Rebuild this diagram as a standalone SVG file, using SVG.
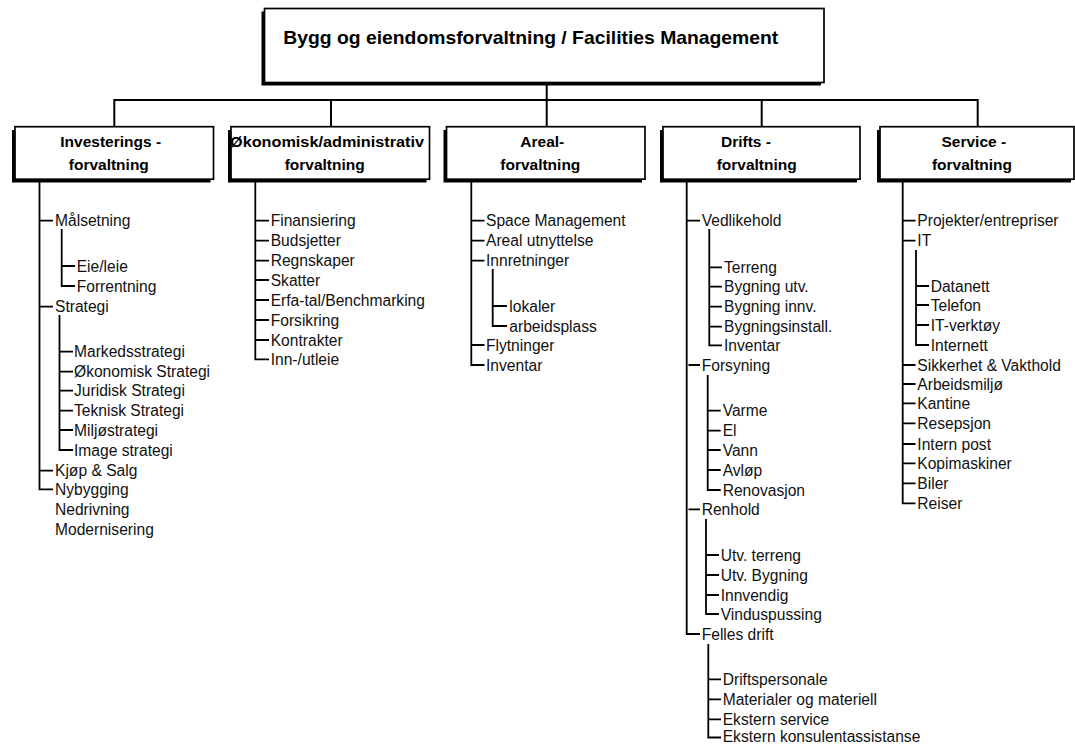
<svg xmlns="http://www.w3.org/2000/svg" width="1075" height="744" viewBox="0 0 1075 744">
<style>
.bg{fill:#fff}
.box{fill:#fff;stroke:#000;stroke-width:1.7}
.sh{fill:#000}
.ln{stroke:#000;stroke-width:2;fill:none}
.tl{stroke:#000;stroke-width:1.8;fill:none}
.t{font-family:"Liberation Sans",Arial,sans-serif;font-size:15.6px;fill:#111}
.h{font-family:"Liberation Sans",Arial,sans-serif;font-size:15.5px;font-weight:bold;fill:#000;text-anchor:middle}
.title{font-family:"Liberation Sans",Arial,sans-serif;font-size:18.5px;font-weight:bold;fill:#000}
</style>
<rect class="bg" x="0" y="0" width="1075" height="744"/>

<g id="connectors">
  <path class="ln" d="M546.7 84V126.7M114.3 126.7V100H977.7V126.7M331 100V126.7M761.7 100V126.7"/>
  <!-- column 1 -->
  <path class="tl" d="M39.5 182V489.3H53M39.5 220.7H53M39.5 306.7H53M39.5 470.7H53"/>
  <path class="tl" d="M61.7 229V286H75M61.7 266H75"/>
  <path class="tl" d="M59.5 315V450H73M59.5 351.7H73M59.5 371.7H73M59.5 390.7H73M59.5 410.7H73M59.5 430H73"/>
  <!-- column 2 -->
  <path class="tl" d="M255.3 182V359.3H269M255.3 220.7H269M255.3 240.7H269M255.3 260.7H269M255.3 280H269M255.3 300H269M255.3 320H269M255.3 340H269"/>
  <!-- column 3 -->
  <path class="tl" d="M471.3 182V365H484.5M471.3 220.7H484.5M471.3 240.7H484.5M471.3 260.7H484.5M471.3 345H484.5"/>
  <path class="tl" d="M492.7 269V326H507M492.7 306H507"/>
  <!-- column 4 -->
  <path class="tl" d="M686.7 182V634H700M686.7 220.7H700M688.5 365H700M688.5 509.3H700"/>
  <path class="tl" d="M709.3 229V345.3H722M709.3 267.3H722M709.3 286.7H722M709.3 306.7H722M709.3 326.7H722"/>
  <path class="tl" d="M707.7 375V490H720.7M707.7 410.7H720.7M707.7 430.7H720.7M707.7 450H720.7M707.7 470H720.7"/>
  <path class="tl" d="M706 519V614H719M706 555H719M706 575H719M706 595H719"/>
  <path class="tl" d="M708.3 644V737.5H721M708.3 679.3H721M708.3 699.3H721M708.3 719.3H721"/>
  <!-- column 5 -->
  <path class="tl" d="M902.7 182V503.3H915.5M902.7 220.7H915.5M902.7 240.7H915.5M902.7 365H915.5M902.7 384H915.5M902.7 403.3H915.5M902.7 423.3H915.5M902.7 444H915.5M902.7 463.3H915.5M902.7 483.3H915.5"/>
  <path class="tl" d="M916 250V345H929M916 286H929M916 305H929M916 325H929"/>
</g>

<g id="root">
  <rect class="sh" x="261.5" y="11.5" width="559.5" height="74"/>
  <rect class="box" x="264.5" y="8.5" width="559.5" height="74"/>
  <text class="title" x="283.3" y="43.5" textLength="495" lengthAdjust="spacingAndGlyphs">Bygg og eiendomsforvaltning / Facilities Management</text>
</g>

<g id="investering">
  <rect class="sh" x="12" y="130" width="198.5" height="52.5"/>
  <rect class="box" x="15" y="126.7" width="198.5" height="52.5"/>
  <text class="h" x="110.7" y="146.7">Investerings -</text>
  <text class="h" x="108.8" y="170">forvaltning</text>
</g>
<g id="okonomisk">
  <rect class="sh" x="228" y="130" width="198.5" height="52.5"/>
  <rect class="box" x="231" y="126.7" width="198.5" height="52.5"/>
  <text class="h" x="230" y="146.7" style="text-anchor:start" textLength="194" lengthAdjust="spacingAndGlyphs">Økonomisk/administrativ</text>
  <text class="h" x="324.7" y="170">forvaltning</text>
</g>
<g id="areal">
  <rect class="sh" x="443.5" y="130" width="198.5" height="52.5"/>
  <rect class="box" x="446.5" y="126.7" width="198.5" height="52.5"/>
  <text class="h" x="542.3" y="146.7">Areal-</text>
  <text class="h" x="540.3" y="170">forvaltning</text>
</g>
<g id="drift">
  <rect class="sh" x="660" y="130" width="197" height="52.5"/>
  <rect class="box" x="663" y="126.7" width="197" height="52.5"/>
  <text class="h" x="746" y="146.7">Drifts -</text>
  <text class="h" x="756.7" y="170">forvaltning</text>
</g>
<g id="service">
  <rect class="sh" x="877" y="130" width="194" height="52.5"/>
  <rect class="box" x="880" y="126.7" width="194" height="52.5"/>
  <text class="h" x="973.8" y="146.7">Service -</text>
  <text class="h" x="972" y="170">forvaltning</text>
</g>

<g id="items-investering" class="t">
  <text id="i-malsetning" x="55" y="226.2">Målsetning</text>
  <text id="i-eieleie" x="76.7" y="271.5">Eie/leie</text>
  <text id="i-forrentning" x="76.7" y="291.5">Forrentning</text>
  <text id="i-strategi" x="55" y="312.2">Strategi</text>
  <text id="i-markeds" x="74" y="357.2">Markedsstrategi</text>
  <text id="i-okstrat" x="74" y="377.2">Økonomisk Strategi</text>
  <text id="i-jurid" x="74" y="396.2">Juridisk Strategi</text>
  <text id="i-teknisk" x="74" y="416.2">Teknisk Strategi</text>
  <text id="i-miljo" x="74" y="435.5">Miljøstrategi</text>
  <text id="i-image" x="74" y="455.5">Image strategi</text>
  <text id="i-kjop" x="55" y="476.2">Kjøp &amp; Salg</text>
  <text id="i-nybygging" x="55" y="494.8">Nybygging</text>
  <text id="i-nedrivning" x="55" y="514.8">Nedrivning</text>
  <text id="i-modernisering" x="55" y="534.8">Modernisering</text>
</g>

<g id="items-okonomisk" class="t">
  <text id="o-finans" x="270.7" y="226.2">Finansiering</text>
  <text id="o-budsj" x="270.7" y="246.2">Budsjetter</text>
  <text id="o-regnsk" x="270.7" y="266.2">Regnskaper</text>
  <text id="o-skatter" x="270.7" y="285.5">Skatter</text>
  <text id="o-erfa" x="270.7" y="305.5">Erfa-tal/Benchmarking</text>
  <text id="o-forsikring" x="270.7" y="325.5">Forsikring</text>
  <text id="o-kontrakter" x="270.7" y="345.5">Kontrakter</text>
  <text id="o-innut" x="270.7" y="364.8">Inn-/utleie</text>
</g>

<g id="items-areal" class="t">
  <text id="a-space" x="486" y="226.2">Space Management</text>
  <text id="a-utnytt" x="486" y="246.2">Areal utnyttelse</text>
  <text id="a-innretn" x="486" y="266.2">Innretninger</text>
  <text id="a-lokaler" x="509.3" y="311.5">lokaler</text>
  <text id="a-arbeid" x="509.3" y="331.5">arbeidsplass</text>
  <text id="a-flytn" x="486" y="350.5">Flytninger</text>
  <text id="a-inventar" x="486" y="370.5">Inventar</text>
</g>

<g id="items-drift" class="t">
  <text id="d-vedlikehold" x="701.7" y="226.2">Vedlikehold</text>
  <text id="d-terreng" x="724" y="272.8">Terreng</text>
  <text id="d-bygutv" x="724" y="292.2">Bygning utv.</text>
  <text id="d-byginnv" x="724" y="312.2">Bygning innv.</text>
  <text id="d-byginst" x="724" y="332.2">Bygningsinstall.</text>
  <text id="d-inventar" x="724" y="350.8">Inventar</text>
  <text id="d-forsyning" x="701.7" y="370.5">Forsyning</text>
  <text id="d-varme" x="722.7" y="416.2">Varme</text>
  <text id="d-el" x="722.7" y="436.2">El</text>
  <text id="d-vann" x="722.7" y="455.5">Vann</text>
  <text id="d-avlop" x="722.7" y="475.5">Avløp</text>
  <text id="d-renov" x="722.7" y="495.5">Renovasjon</text>
  <text id="d-renhold" x="701.7" y="514.8">Renhold</text>
  <text id="d-utvterr" x="720.7" y="560.5">Utv. terreng</text>
  <text id="d-utvbyg" x="720.7" y="580.5">Utv. Bygning</text>
  <text id="d-innv" x="720.7" y="600.5">Innvendig</text>
  <text id="d-vindus" x="720.7" y="619.5">Vinduspussing</text>
  <text id="d-felles" x="701.7" y="639.5">Felles drift</text>
  <text id="d-driftsp" x="722.7" y="684.8">Driftspersonale</text>
  <text id="d-mater" x="722.7" y="704.8">Materialer og materiell</text>
  <text id="d-ekstserv" x="722.7" y="724.8">Ekstern service</text>
  <text id="d-ekstkons" x="722.7" y="741.5">Ekstern konsulentassistanse</text>
</g>

<g id="items-service" class="t">
  <text id="s-prosj" x="917.3" y="226.2">Projekter/entrepriser</text>
  <text id="s-it" x="917.3" y="246.2">IT</text>
  <text id="s-datanett" x="930.7" y="291.5">Datanett</text>
  <text id="s-telefon" x="930.7" y="310.5">Telefon</text>
  <text id="s-itverk" x="930.7" y="330.5">IT-verktøy</text>
  <text id="s-internett" x="930.7" y="350.5">Internett</text>
  <text id="s-sikk" x="917.3" y="370.5">Sikkerhet &amp; Vakthold</text>
  <text id="s-arbm" x="917.3" y="389.5">Arbeidsmiljø</text>
  <text id="s-kantine" x="917.3" y="408.8">Kantine</text>
  <text id="s-resep" x="917.3" y="428.8">Resepsjon</text>
  <text id="s-post" x="917.3" y="449.5">Intern post</text>
  <text id="s-kopi" x="917.3" y="468.8">Kopimaskiner</text>
  <text id="s-biler" x="917.3" y="488.8">Biler</text>
  <text id="s-reiser" x="917.3" y="508.8">Reiser</text>
</g>
</svg>
